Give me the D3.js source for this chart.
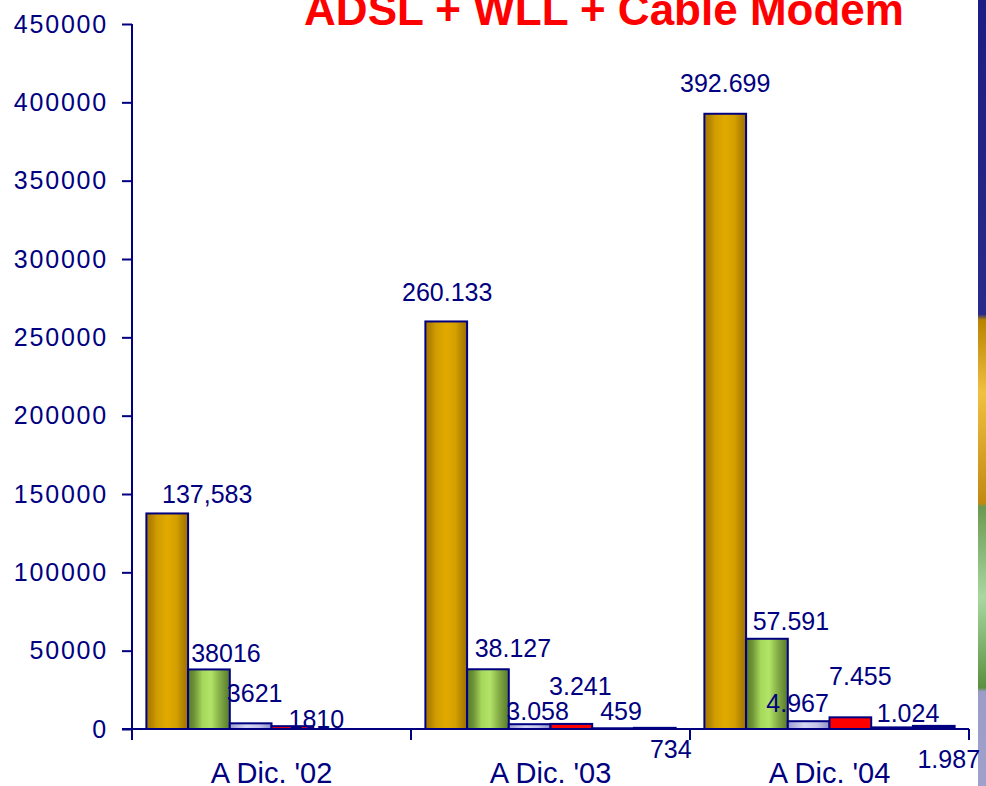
<!DOCTYPE html>
<html>
<head>
<meta charset="utf-8">
<script src="https://cdn.jsdelivr.net/npm/d3@7"></script>
<style>
  body { margin: 0; background: #fff; }
  svg { display: block; font-family: Arial, "Liberation Sans", sans-serif; }
</style>
</head>
<body>
<svg id="chart" width="986" height="786"></svg>
<script>
// data
var groups = ["A Dic. '02", "A Dic. '03", "A Dic. '04"];
var series = ["s1", "s2", "s3", "s4", "s5", "s6"];
var dic02 = [137583, 38016, 3621, 1810, 0, 0];
var dic03 = [260133, 38127, 3058, 3241, 459, 734];
var dic04 = [392699, 57591, 4967, 7455, 1024, 1987];
var labels02 = ["137,583", "38016", "3621", "1810", "", ""];
var labels03 = ["260.133", "38.127", "3.058", "3.241", "459", "734"];
var labels04 = ["392.699", "57.591", "4.967", "7.455", "1.024", "1.987"];
var yTicks = [0, 50000, 100000, 150000, 200000, 250000, 300000, 350000, 400000, 450000];

var values = [dic02, dic03, dic04];
var labelText = [labels02, labels03, labels04];

var navy = "#000080";
var svg = d3.select("#chart");

//----------------------gradients------------------------
var defs = svg.append("defs");
function grad(id, stops, vertical) {
  var g = defs.append("linearGradient").attr("id", id)
    .attr("x1", 0).attr("y1", 0)
    .attr("x2", vertical ? 0 : 1).attr("y2", vertical ? 1 : 0);
  stops.forEach(function(s) {
    g.append("stop").attr("offset", s[0]).attr("stop-color", s[1]);
  });
}
grad("gOrange", [[0, "#a87800"], [0.12, "#b48400"], [0.25, "#d09c00"], [0.5, "#e2aa00"], [0.72, "#d4a000"], [0.85, "#b88800"], [1, "#9c7000"]]);
grad("gGreen", [[0, "#587a28"], [0.15, "#6e9436"], [0.35, "#a6d85c"], [0.55, "#b2e468"], [0.75, "#86b048"], [1, "#56782a"]]);
grad("gLav", [[0, "#9c9cd0"], [0.4, "#d8d8f4"], [0.7, "#c4c4e8"], [1, "#9090c8"]]);
grad("gStrip", [[0, "#1c1c84"], [0.4, "#2a2a8a"], [0.407, "#b88400"], [0.5, "#f0c040"], [0.64, "#c08a10"], [0.645, "#6a9a50"], [0.76, "#a8d8a0"], [0.875, "#5a9040"], [0.88, "#9c9cc8"], [1, "#a0a0cc"]], true);

var fills = ["url(#gOrange)", "url(#gGreen)", "url(#gLav)", "#ff0000", navy, navy];

//----------------------scales------------------------
var x0 = d3.scaleBand().domain(groups).range([132, 969]);
var x1 = d3.scaleBand().domain(series).range([0, x0.bandwidth()]).paddingOuter(0.345);
var y = d3.scaleLinear().domain([0, 450000]).range([729, 24]);

//----------------------title------------------------
svg.append("text")
  .attr("x", 604).attr("y", 25)
  .attr("text-anchor", "middle")
  .attr("font-size", "44px").attr("font-weight", "bold")
  .attr("fill", "#ff0000")
  .text("ADSL + WLL + Cable Modem");

// coloured strip on the right edge
svg.append("rect").attr("x", 978).attr("y", 0).attr("width", 8).attr("height", 786)
  .attr("fill", "url(#gStrip)");

//----------------------axes------------------------
var yAxis = svg.append("g")
  .attr("transform", "translate(132,0)")
  .call(d3.axisLeft(y).tickValues(yTicks).tickFormat(d3.format("d")).tickSize(10).tickSizeOuter(0).tickPadding(14));
yAxis.select(".domain").remove();
yAxis.selectAll("line").attr("stroke", navy).attr("stroke-width", 2);
yAxis.selectAll("text").attr("fill", navy).attr("font-size", "25px")
  .attr("letter-spacing", "1.8px").attr("font-family", "Arial, 'Liberation Sans', sans-serif");

svg.append("line").attr("x1", 132).attr("x2", 132).attr("y1", y(450000)).attr("y2", 740)
  .attr("stroke", navy).attr("stroke-width", 2);

var xAxis = svg.append("g")
  .attr("transform", "translate(0,729)")
  .call(d3.axisBottom(x0).tickSize(0).tickPadding(33));
xAxis.select(".domain").remove();
xAxis.selectAll("text").attr("fill", navy).attr("font-size", "29px")
  .attr("font-family", "Arial, 'Liberation Sans', sans-serif");

svg.append("line").attr("x1", 122).attr("x2", 969).attr("y1", y(0)).attr("y2", y(0))
  .attr("stroke", navy).attr("stroke-width", 2);
svg.selectAll("line.bound")
  .data(groups.map(function(g) { return x0(g) + x0.bandwidth(); }))
  .enter().append("line").attr("class", "bound")
  .attr("x1", function(d) { return d; }).attr("x2", function(d) { return d; })
  .attr("y1", y(0)).attr("y2", y(0) + 11)
  .attr("stroke", navy).attr("stroke-width", 2);

//----------------------bars------------------------
var flat = [];
groups.forEach(function(g, gi) {
  series.forEach(function(s, si) {
    flat.push({ g: g, s: s, si: si, v: values[gi][si], label: labelText[gi][si] });
  });
});

svg.append("g").selectAll("rect")
  .data(flat.filter(function(d) { return d.v > 0; }))
  .enter().append("rect")
  .attr("x", function(d) { return x0(d.g) + x1(d.s); })
  .attr("y", function(d) { return y(d.v); })
  .attr("width", x1.bandwidth())
  .attr("height", function(d) { return y(0) - y(d.v); })
  .attr("fill", function(d) { return fills[d.si]; })
  .attr("stroke", navy).attr("stroke-width", 2);

//----------------------value labels------------------------
// nudges (dx, dy) of each label from the bar's top centre, as placed in the original
var nudge = [
  [[40, -10], [17, -7], [4, -21], [24, 2], [0, 0], [0, 0]],
  [[1, -20], [25, -12], [8, -4], [9, -29], [8, -8], [16, 30]],
  [[0, -22], [24, -9], [-11, -9], [10, -32], [16, -5], [15, 42]]
];

svg.append("g").selectAll("text")
  .data(flat.filter(function(d) { return d.label !== ""; }))
  .enter().append("text")
  .attr("x", function(d) {
    return x0(d.g) + x1(d.s) + x1.bandwidth() / 2 + nudge[groups.indexOf(d.g)][d.si][0];
  })
  .attr("y", function(d) { return y(d.v) + nudge[groups.indexOf(d.g)][d.si][1]; })
  .attr("text-anchor", "middle")
  .attr("font-size", "25px")
  .attr("fill", navy)
  .text(function(d) { return d.label; });
</script>
</body>
</html>
